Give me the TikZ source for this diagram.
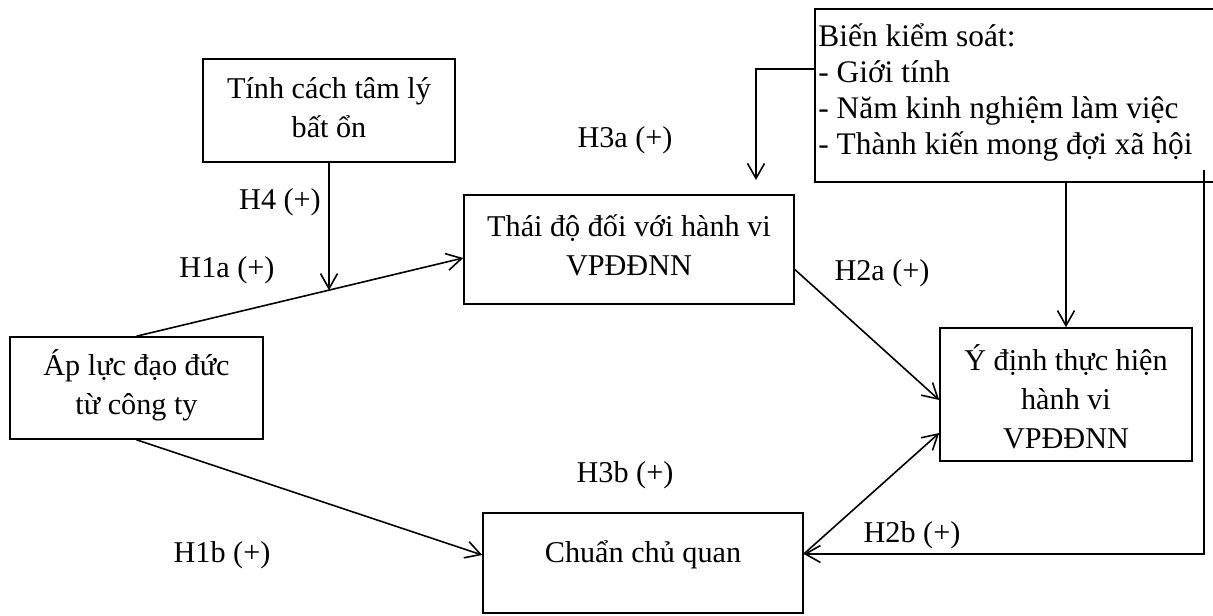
\documentclass[tikz,border=0pt]{standalone}
\usepackage{fontspec}
\setmainfont{Liberation Serif}
\usetikzlibrary{arrows.meta,calc}
\begin{document}
\begin{tikzpicture}[x=0.5pt,y=-0.5pt,
  box/.style={draw, line width=0.8pt, inner sep=0pt, rectangle},
  txt/.style={font=\fontsize{15.1}{19.5}\selectfont, align=center, inner sep=0pt},
  lbl/.style={font=\fontsize{15.1}{18}\selectfont, inner sep=0pt},
  arr/.style={line width=0.8pt, -{Straight Barb[length=7.5pt,width=8.5pt]}},
  conn/.style={line width=0.8pt}]
\useasboundingbox (0,0) rectangle (1213,615);
% boxes
\node[box, minimum width=126pt, minimum height=51.5pt] (tinh) at (329,110.5) {};
\node[box, minimum width=202.5pt, minimum height=86.5pt] (ctrl) at (1017.5,95.5) {};
\node[box, minimum width=165pt, minimum height=54.5pt] (thai) at (629,249.5) {};
\node[box, minimum width=126.5pt, minimum height=51pt] (ap) at (136.5,388) {};
\node[box, minimum width=126pt, minimum height=66.5pt] (ydinh) at (1066,394.5) {};
\node[box, minimum width=160pt, minimum height=50pt] (chuan) at (643,563) {};
% texts
\node[txt] (tinhtxt) at (329,108) {Tính cách tâm lý\\bất ổn};
\node[txt, anchor=west, align=left, font=\fontsize{15.7}{18}\selectfont] (ctrltxt) at (818,93) {Biến kiểm soát:\\- Giới tính\\- Năm kinh nghiệm làm việc\\- Thành kiến mong đợi xã hội};
\node[txt] (thaitxt) at (629,245) {Thái độ đối với hành vi\\VPĐĐNN};
\node[txt] (aptxt) at (136.5,385) {Áp lực đạo đức\\từ công ty};
\node[txt] (ydinhtxt) at (1066,397) {Ý định thực hiện\\hành vi\\VPĐĐNN};
\node[txt] (chuantxt) at (643,555) {Chuẩn chủ quan};
% labels
\node[lbl] (lH4) at (280,202) {H4 (+)};
\node[lbl] (lH1a) at (227,270) {H1a (+)};
\node[lbl] (lH3a) at (625,140) {H3a (+)};
\node[lbl] (lH2a) at (882,273) {H2a (+)};
\node[lbl] (lH3b) at (625,475) {H3b (+)};
\node[lbl] (lH1b) at (222,555) {H1b (+)};
\node[lbl] (lH2b) at (912,535) {H2b (+)};
% connectors
\draw[arr] (ap.north) -- coordinate[pos=0.588] (hmid) ($(thai.west)+(0,8.5)$);
\draw[arr] (tinh.south) -- (tinh.south |- hmid);
\draw[arr] ($(thai.east)+(0,20)$) -- ($(ydinh.west)+(0,5.5)$);
\draw[arr] ($(chuan.east)+(0,-9)$) -- ($(ydinh.west)+(0,38.5)$);
\draw[arr] (ap.south) -- ($(chuan.west)+(0,-8)$);
\coordinate (cA) at (756,180);
\draw[arr] ($(ctrl.west)+(0,-26.5)$) -| (cA);
\draw[arr] (ctrl.south -| ydinh.north) -- (ydinh.north);
\coordinate (cB) at (1204,170);
\draw[arr] (cB) |- ($(chuan.east)+(0,-9)$);
\end{tikzpicture}
\end{document}
